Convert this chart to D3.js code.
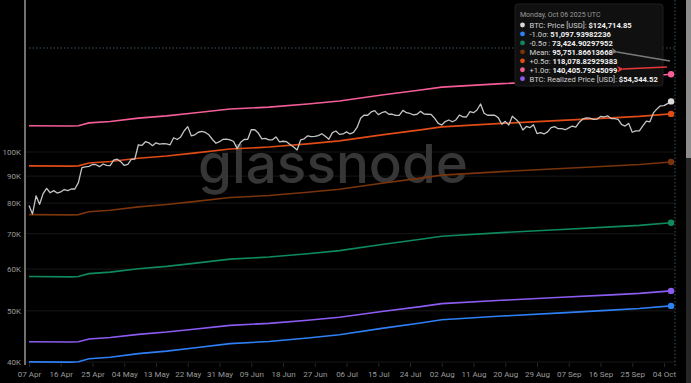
<!DOCTYPE html>
<html>
<head>
<meta charset="utf-8">
<script src="https://cdn.jsdelivr.net/npm/d3@7"></script>
<style>
  html, body { margin: 0; padding: 0; background: #000; }
  svg { display: block; font-family: Roboto, "Noto Sans", sans-serif; }
</style>
</head>
<body>
<svg id="chart" width="691" height="383"></svg>
<script>
var width = 691, height = 383;

// daily BTC price, 07 Apr 2025 .. 06 Oct 2025
var startDate = new Date(Date.UTC(2025, 3, 7));
var price = [
  79200, 76300, 82600, 79600, 83400, 85300, 83700, 84500, 83600, 84000,
  84900, 84500, 85100, 85100, 87500, 93400, 93700, 93900, 94700, 94600,
  93800, 94900, 94300, 94200, 96500, 96900, 95900, 94300, 94700, 96800,
  97000, 103200, 102900, 104600, 104100, 102800, 104100, 103500, 103700, 103600,
  103200, 106400, 105600, 106800, 109700, 111700, 107300, 107800, 109000, 109400,
  108900, 107800, 105600, 103900, 104600, 105700, 105800, 105400, 104700, 101500,
  104300, 105600, 105700, 110200, 110200, 108600, 105900, 106100, 105400, 105500,
  106800, 104500, 104800, 104600, 103300, 102200, 100900, 105400, 105900, 107300,
  106900, 107100, 107400, 108300, 107100, 105700, 108800, 109600, 108000, 108200,
  109200, 108200, 108900, 111300, 115900, 117500, 117400, 119100, 119800, 117700,
  118700, 119300, 117900, 117900, 117300, 117400, 119900, 118700, 118300, 117600,
  117900, 119400, 118000, 117900, 117800, 115800, 113300, 112500, 114200, 115000,
  114100, 115000, 117500, 116600, 116500, 119300, 118700, 120100, 123300, 118400,
  117400, 117500, 117400, 116200, 112900, 114300, 112500, 116900, 115400, 113500,
  110100, 111800, 111200, 112600, 108400, 108800, 108200, 109200, 111200, 111700,
  110700, 110700, 110200, 111100, 112000, 111500, 113900, 115500, 116100, 115900,
  115300, 115400, 116800, 116500, 117100, 115700, 115700, 115300, 112700, 112000,
  113300, 109000, 109700, 109700, 112100, 114400, 114100, 118600, 120700, 122300,
  122400, 123500, 124715
];

// band lines, read at these day offsets from 07 Apr
var bandDays = [0, 12, 14, 17, 23, 31, 39, 46, 57, 68, 79, 88, 100, 111, 117, 134, 151, 165, 173, 182];
var plus1 = [112170, 112030, 112170, 113530, 114270, 115910, 117060, 118390, 120600, 121650, 123330, 124940, 128220, 131020, 132730, 134740, 136510, 138000, 138890, 140406];
var plus05 = [94140, 94020, 94140, 95290, 95920, 97310, 98280, 99410, 101290, 102180, 103600, 104970, 107750, 110120, 111570, 113280, 114780, 116040, 116800, 118079];
var mean = [76100, 76000, 76100, 77050, 77560, 78700, 79500, 80430, 81970, 82700, 83870, 84990, 87270, 89220, 90410, 91810, 93040, 94080, 94700, 95752];
var minus05 = [58070, 57990, 58070, 58810, 59210, 60100, 60720, 61450, 62660, 63230, 64140, 65020, 66800, 68320, 69250, 70350, 71310, 72120, 72610, 73425];
var minus1 = [40030, 39970, 40030, 40570, 40850, 41490, 41940, 42470, 43340, 43750, 44410, 45040, 46320, 47420, 48090, 48880, 49570, 50160, 50510, 51098];
var realized = [43700, 43640, 43700, 44220, 44500, 45130, 45580, 46090, 46940, 47340, 47990, 48610, 49870, 50940, 51600, 52370, 53050, 53620, 53970, 54545];

var yTicks = [40000, 50000, 60000, 70000, 80000, 90000, 100000];
var yTickLabels = ["40K", "50K", "60K", "70K", "80K", "90K", "100K"];

var tooltipTitle = "Monday, Oct 06 2025 UTC";
var tooltipRows = [
  { label: "BTC: Price [USD]: ", value: "$124,714.85", color: "#d9d9d9" },
  { label: "-1.0\u03c3: ", value: "51,097.93982236", color: "#2f7ff5" },
  { label: "-0.5\u03c3 : ", value: "73,424.90297952", color: "#0f8a5c" },
  { label: "Mean: ", value: "95,751.86613668", color: "#7a340c" },
  { label: "+0.5\u03c3: ", value: "118,078.82929383", color: "#e04b16" },
  { label: "+1.0\u03c3: ", value: "140,405.79245099", color: "#f45d96" },
  { label: "BTC: Realized Price [USD]: ", value: "$54,544.52", color: "#8c5cf2" }
];

var svg = d3.select("#chart");
svg.append("rect").attr("width", width).attr("height", height).attr("fill", "#000");

var x = d3.scaleUtc()
  .domain([startDate, d3.utcDay.offset(startDate, 180)])
  .range([29, 664]);
var y = d3.scaleLog().domain([40000, 100000]).range([362, 152]);

function dayDate(d) { return d3.utcDay.offset(startDate, d); }

// grid
svg.append("g")
  .selectAll("line")
  .data(yTicks)
  .enter()
  .append("line")
  .attr("x1", 26).attr("x2", 675)
  .attr("y1", function(d) { return y(d); })
  .attr("y2", function(d) { return y(d); })
  .attr("stroke", "#171717")
  .attr("stroke-width", 1);

// watermark
svg.append("text")
  .attr("x", 198).attr("y", 183)
  .attr("textLength", 270)
  .attr("lengthAdjust", "spacingAndGlyphs")
  .attr("fill", "#363636")
  .attr("font-family", "Inter, Lato, sans-serif")
  .attr("font-weight", 500)
  .attr("font-size", 54)
  .text("glassnode");

// y axis
var yAxis = d3.axisLeft(y)
  .tickValues(yTicks)
  .tickFormat(function(d, i) { return yTickLabels[i]; })
  .tickSize(0)
  .tickPadding(4);
var gy = svg.append("g")
  .attr("transform", "translate(25,0)")
  .call(yAxis);
gy.select(".domain").remove();
gy.selectAll("text").attr("fill", "#9a9a9a").attr("font-size", 8).attr("font-family", "Roboto, sans-serif");
svg.append("line")
  .attr("x1", 25).attr("x2", 25).attr("y1", 0).attr("y2", 365)
  .attr("stroke", "#bdbdbd").attr("stroke-width", 1.2);

// x axis
var xTicks = d3.range(0, 181, 9).map(dayDate);
var xAxis = d3.axisBottom(x)
  .tickValues(xTicks)
  .tickFormat(d3.utcFormat("%d %b"))
  .tickSize(4)
  .tickPadding(4);
var gx = svg.append("g")
  .attr("transform", "translate(0,363)")
  .call(xAxis);
gx.select(".domain").remove();
gx.selectAll(".tick line").attr("stroke", "#262626");
gx.selectAll("text").attr("fill", "#9a9a9a").attr("font-size", 8).attr("font-family", "Roboto, sans-serif");

// crosshair
svg.append("line")
  .attr("x1", 29).attr("x2", 675).attr("y1", 48).attr("y2", 48)
  .attr("stroke", "#3b5566").attr("stroke-width", 1).attr("stroke-dasharray", "1.5,2");
svg.append("line")
  .attr("x1", 675).attr("x2", 675).attr("y1", 0).attr("y2", 366)
  .attr("stroke", "#3b5566").attr("stroke-width", 1).attr("stroke-dasharray", "1.5,2");

// band lines
var bandLine = d3.line()
  .x(function(d) { return x(dayDate(d[0])); })
  .y(function(d) { return y(d[1]); });

var bands = [
  { values: realized, color: "#8c5cf2" },
  { values: minus1, color: "#2f7ff5" },
  { values: minus05, color: "#0f8a5c" },
  { values: mean, color: "#7a340c" },
  { values: plus05, color: "#e04b16" },
  { values: plus1, color: "#f45d96" }
];

bands.forEach(function(b) {
  var pts = bandDays.map(function(d, i) { return [d, b.values[i]]; });
  svg.append("path")
    .datum(pts)
    .attr("d", bandLine)
    .attr("fill", "none")
    .attr("stroke", b.color)
    .attr("stroke-width", 1.6);
  svg.append("circle")
    .attr("cx", x(dayDate(182)))
    .attr("cy", y(b.values[b.values.length - 1]))
    .attr("r", 3.2)
    .attr("fill", b.color);
});

// price line
var pricePts = price.map(function(v, i) { return [i, v]; });
svg.append("path")
  .datum(pricePts)
  .attr("d", bandLine)
  .attr("fill", "none")
  .attr("stroke", "#c4c4c4")
  .attr("stroke-width", 1.3)
  .attr("stroke-linejoin", "round");
svg.append("circle")
  .attr("cx", x(dayDate(182)))
  .attr("cy", y(price[price.length - 1]))
  .attr("r", 3.2)
  .attr("fill", "#d9d9d9");

// scrollbar on the right edge
svg.append("rect").attr("x", 686).attr("y", 0).attr("width", 5).attr("height", 158).attr("fill", "#8d8d8d");
svg.append("rect").attr("x", 686).attr("y", 158).attr("width", 5).attr("height", 225).attr("fill", "#262626");

// tooltip
var tip = svg.append("g");
tip.append("rect")
  .attr("x", 515).attr("y", 4).attr("width", 148).attr("height", 82)
  .attr("rx", 3)
  .attr("fill", "#101010")
  .attr("stroke", "#1f1f1f");
tip.append("text")
  .attr("x", 520).attr("y", 17)
  .attr("fill", "#9a9a9a")
  .attr("font-size", 7)
  .text(tooltipTitle);

var rows = tip.selectAll("g.row")
  .data(tooltipRows)
  .enter()
  .append("g")
  .attr("class", "row")
  .attr("transform", function(d, i) { return "translate(0," + (25 + i * 8.95) + ")"; });
rows.append("circle")
  .attr("cx", 522.5).attr("cy", 0).attr("r", 2.4)
  .attr("fill", function(d) { return d.color; });
var rowText = rows.append("text")
  .attr("x", 529.5).attr("y", 2.8)
  .attr("font-size", 7.6)
  .attr("fill", "#d0d0d0");
rowText.append("tspan").text(function(d) { return d.label; });
rowText.append("tspan")
  .attr("font-weight", 700)
  .attr("fill", "#f0f0f0")
  .text(function(d) { return d.value; });

// annotation arrows
var defs = svg.append("defs");
function marker(id, color) {
  defs.append("marker")
    .attr("id", id)
    .attr("viewBox", "0 0 10 10")
    .attr("refX", 1).attr("refY", 5)
    .attr("markerWidth", 5).attr("markerHeight", 5)
    .attr("orient", "auto-start-reverse")
    .append("path")
    .attr("d", "M0,5 L10,0 L7,5 L10,10 Z")
    .attr("fill", color);
}
marker("arrowGray", "#7a7a7a");
marker("arrowRed", "#e8383a");
svg.append("line")
  .attr("x1", 617).attr("y1", 52).attr("x2", 670).attr("y2", 61)
  .attr("stroke", "#7a7a7a").attr("stroke-width", 1.3)
  .attr("marker-start", "url(#arrowGray)");
svg.append("line")
  .attr("x1", 623).attr("y1", 69).attr("x2", 667).attr("y2", 67)
  .attr("stroke", "#e8383a").attr("stroke-width", 1.3)
  .attr("marker-start", "url(#arrowRed)");
</script>
</body>
</html>
